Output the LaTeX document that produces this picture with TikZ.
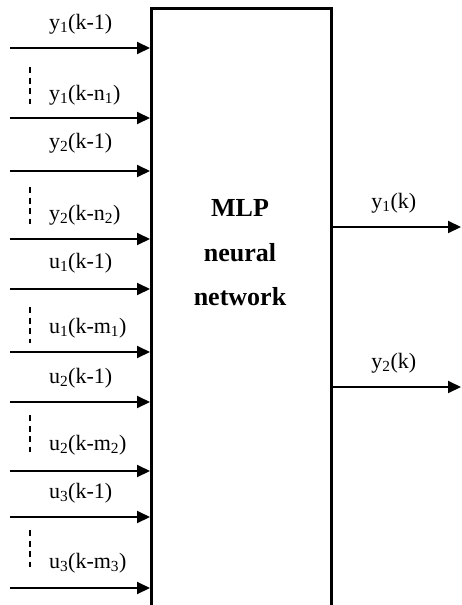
\documentclass[tikz,border=0pt]{standalone}
\usepackage{fontspec}
\setmainfont{Liberation Serif}
\usetikzlibrary{arrows.meta, positioning}
\newcommand{\sub}[1]{\textsubscript{#1}}
\tikzset{
  every picture/.style={line width=2pt},
  arrow/.style={-{Triangle[length=13pt, width=12pt]}, line width=2pt},
  sig/.style={font=\fontsize{22}{26}\selectfont, anchor=west, inner sep=0pt},
  elide/.style={dash pattern=on 6pt off 4.5pt, line width=1.5pt},
  title/.style={font=\fontsize{26}{44.5}\selectfont\bfseries, align=center, inner sep=0pt},
}

\begin{document}
\begin{tikzpicture}[x=1pt, y=-1pt]
  \clip (0,0) rectangle (462,605);
  \node[draw, line width=2.5pt, minimum width=180pt, minimum height=640pt, inner sep=0pt, anchor=north west] (mlp) at (150,7) {};
  \node[title] (name) at (240,253) {MLP\\neural\\network};
  \foreach \y [count=\i] in {48,118,171,239,289,352,402,471,517,588} {
    \coordinate (in\i) at (10,\y);
    \draw[arrow] (in\i) -- (in\i -| mlp.west);
  }
  \foreach \y/\t [count=\i] in {24/{y\sub{1}(k-1)}, 95/{y\sub{1}(k-n\sub{1})},
      143/{y\sub{2}(k-1)}, 215/{y\sub{2}(k-n\sub{2})},
      263/{u\sub{1}(k-1)}, 328/{u\sub{1}(k-m\sub{1})},
      378/{u\sub{2}(k-1)}, 445/{u\sub{2}(k-m\sub{2})},
      493/{u\sub{3}(k-1)}, 563/{u\sub{3}(k-m\sub{3})}}
    \node[sig] (lab\i) at (48,\y) {\t};
  \foreach \a/\b in {67/104, 187/224, 307/343, 415/452, 530/567}
    \draw[elide] (30,\a) -- (30,\b);
  \coordinate (out1) at (461,227);
  \coordinate (out2) at (461,387);
  \draw[arrow] (mlp.east |- out1) -- node[sig, above=13pt, xshift=-3pt] (ylab1) {y\sub{1}(k)} (out1);
  \draw[arrow] (mlp.east |- out2) -- node[sig, above=13pt, xshift=-3pt] (ylab2) {y\sub{2}(k)} (out2);
\end{tikzpicture}
\end{document}
